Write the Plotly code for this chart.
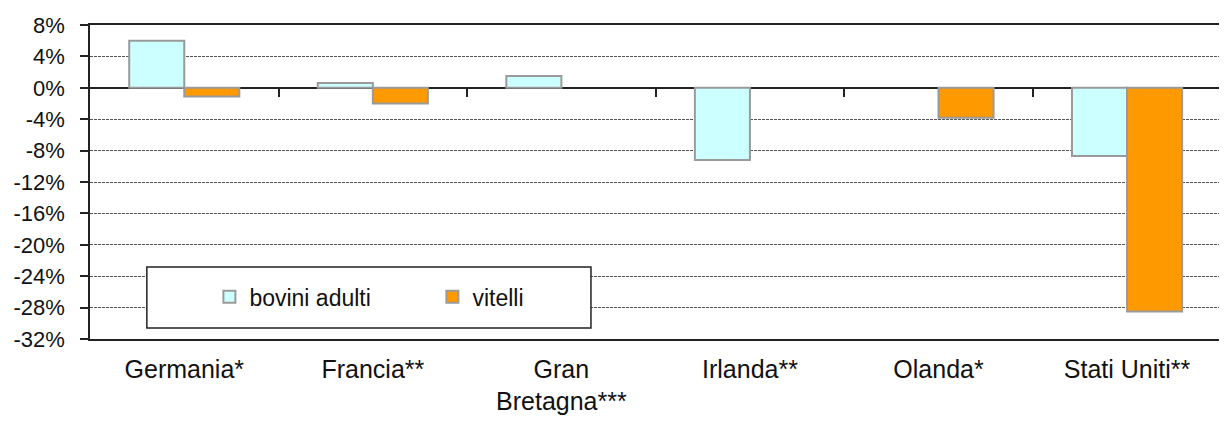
import plotly.graph_objects as go

paesi = ["Germania*", "Francia**", "Gran<br>Bretagna***", "Irlanda**", "Olanda*", "Stati Uniti**"]
bovini_adulti = [6.0, 0.6, 1.5, -9.2, None, -8.7]
vitelli = [-1.1, -2.0, None, None, -3.8, -28.5]
y_ticks = list(range(-32, 9, 4))
y_labels = [f"{v}%" for v in y_ticks]

font = "Arial, Liberation Sans, sans-serif"
bordo = dict(color="#9a9a9a", width=2)

fig = go.Figure()
fig.add_trace(go.Bar(x=paesi, y=bovini_adulti, name="bovini adulti",
                     marker=dict(color="#ccffff", line=bordo)))
fig.add_trace(go.Bar(x=paesi, y=vitelli, name="vitelli",
                     marker=dict(color="#ff9900", line=bordo)))

# asse categorie sullo zero (solo tacche)
fig.add_trace(go.Scatter(x=paesi, y=[None] * len(paesi), xaxis="x2",
                         showlegend=False, hoverinfo="skip"))

fig.update_layout(
    width=1219, height=429,
    margin=dict(l=82, r=0, t=17, b=98),
    plot_bgcolor="white", paper_bgcolor="white",
    font=dict(family=font, size=22, color="#111"),
    barmode="group", bargap=0.416, bargroupgap=0,
    xaxis=dict(range=[-0.5, 5.53], showline=True, linecolor="#222", linewidth=1.5,
               mirror=True, ticks="", showgrid=False, ticklabelstandoff=7,
               tickfont=dict(size=25)),
    xaxis2=dict(overlaying="x", anchor="free", position=0.8, range=[-0.5, 5.53],
                showline=False, showticklabels=False, showgrid=False,
                ticks="outside", ticklen=8, tickcolor="#222", tickwidth=1.5,
                tickvals=[0.5, 1.5, 2.5, 3.5, 4.5], tickmode="array"),
    yaxis=dict(range=[-32, 8], tickmode="array", tickvals=y_ticks, ticktext=y_labels,
               showline=True, linecolor="#222", linewidth=1.5,
               ticks="outside", ticklen=8, tickcolor="#222", tickwidth=1.5,
               ticklabelstandoff=11,
               showgrid=True, gridcolor="#555", gridwidth=1, griddash="3px,1px",
               zeroline=True, zerolinecolor="#222", zerolinewidth=1.5,
               tickfont=dict(size=22)),
    legend=dict(orientation="h", x=0.105, xanchor="left", y=0.134, yanchor="middle",
                bgcolor="rgba(0,0,0,0)", borderwidth=0, entrywidth=178,
                entrywidthmode="pixels", font=dict(size=23, color="#111"),
                itemclick=False),
    shapes=[dict(type="rect", xref="paper", yref="paper", x0=0.05, x1=0.4406,
                 y0=0.035, y1=0.229, fillcolor="white",
                 line=dict(color="#222", width=1.5), layer="above")],
)

fig.write_html("out.html")
